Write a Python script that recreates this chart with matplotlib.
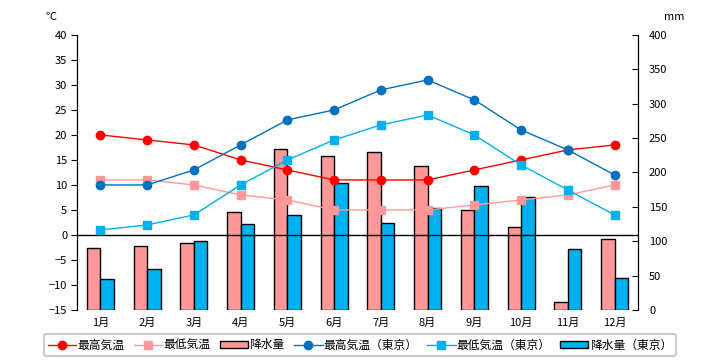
import matplotlib.pyplot as plt
import numpy as np

plt.rcParams['font.family'] = ['Noto Sans CJK JP', 'DejaVu Sans']

months = ['1月', '2月', '3月', '4月', '5月', '6月', '7月', '8月', '9月', '10月', '11月', '12月']

# city data
t_max = [20, 19, 18, 15, 13, 11, 11, 11, 13, 15, 17, 18]
t_min = [11, 11, 10, 8, 7, 5, 5, 5, 6, 7, 8, 10]
rain = [90, 93, 98, 142, 234, 224, 229, 209, 146, 120, 11, 103]

# Tokyo
tk_max = [10, 10, 13, 18, 23, 25, 29, 31, 27, 21, 17, 12]
tk_min = [1, 2, 4, 10, 15, 19, 22, 24, 20, 14, 9, 4]
tk_rain = [45, 59, 100, 125, 138, 184, 126, 148, 180, 164, 88, 46]

x = np.arange(len(months))
w = 0.29

fig = plt.figure(figsize=(7.2, 3.6), dpi=100)
ax1 = fig.add_axes([0.107, 0.139, 0.779, 0.764])
ax2 = ax1.twinx()
ax1.set_zorder(ax2.get_zorder() + 1)
ax1.patch.set_visible(False)
ax2.patch.set_facecolor('#FFFFCC')

b1 = ax2.bar(x - w / 2, rain, w, color='#FF9999', edgecolor='black', linewidth=1, label='降水量')
b2 = ax2.bar(x + w / 2, tk_rain, w, color='#00B0F0', edgecolor='black', linewidth=1, label='降水量（東京）')

ax1.axhline(0, color='black', linewidth=1)
l1, = ax1.plot(x, t_max, color='#FF0000', marker='o', markersize=6, linewidth=1, label='最高気温')
l2, = ax1.plot(x, t_min, color='#FF9999', marker='s', markersize=5.5, linewidth=1, label='最低気温')
l3, = ax1.plot(x, tk_max, color='#0070C0', marker='o', markersize=6, linewidth=1, label='最高気温（東京）')
l4, = ax1.plot(x, tk_min, color='#00B0F0', marker='s', markersize=5.5, linewidth=1, label='最低気温（東京）')

ax1.set_xlim(-0.5, 11.5)
ax1.set_ylim(-15, 40)
ax1.set_yticks(range(-15, 41, 5))
ax2.set_ylim(0, 400)
ax2.set_yticks(range(0, 401, 50))
ax1.set_xticks(x)
ax1.set_xticklabels(months)

for a in (ax1, ax2):
    a.spines['top'].set_visible(False)
    a.spines['bottom'].set_visible(False)
    a.spines['left'].set_color('black')
    a.spines['right'].set_color('black')
ax1.tick_params(axis='x', length=0, labelsize=8, pad=6)
ax1.tick_params(axis='y', direction='out', length=4, labelsize=8, pad=3)
ax2.tick_params(axis='y', direction='in', length=4, labelsize=8, pad=8)

fig.text(0.063, 0.952, '℃', fontsize=8, ha='left', va='center')
fig.text(0.922, 0.952, 'mm', fontsize=8, ha='left', va='center')

leg = fig.legend([l1, l2, b1, l3, l4, b2],
                 ['最高気温', '最低気温', '降水量', '最高気温（東京）', '最低気温（東京）', '降水量（東京）'],
                 loc='center', bbox_to_anchor=(0.5, 0.042), ncol=6, fontsize=8.5,
                 frameon=True, fancybox=True, edgecolor='#BFBFBF', handlelength=2.4,
                 handleheight=0.5, columnspacing=0.8, handletextpad=0.1, borderpad=0.35,
                 borderaxespad=0.2)
leg.get_frame().set_linewidth(1.5)

fig.savefig('out.png', dpi=100)
